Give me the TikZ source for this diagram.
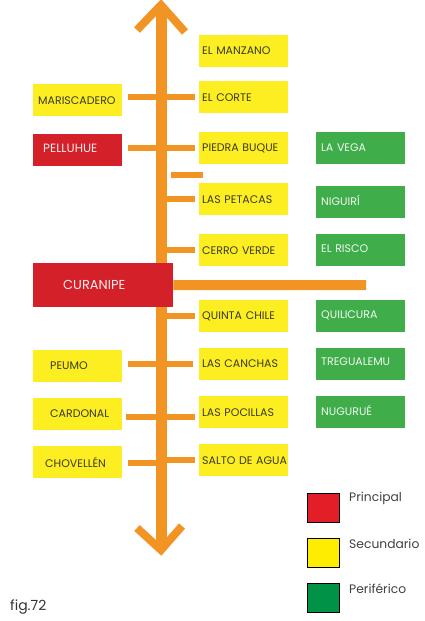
\documentclass[tikz,border=0pt]{standalone}
\usepackage{fontspec}
\setmainfont{Poppins}
\definecolor{orng}{HTML}{F29423}
\definecolor{ybox}{HTML}{FCEE21}
\definecolor{rbox}{HTML}{D32029}
\definecolor{gbox}{HTML}{3FAE4A}
\definecolor{lred}{HTML}{E31E26}
\definecolor{lyel}{HTML}{FFED00}
\definecolor{lgrn}{HTML}{009245}
\definecolor{btxt}{HTML}{3A3A20}
\tikzset{
  base/.style={anchor=north west, minimum width=89pt, minimum height=32pt, inner xsep=3pt, inner ysep=0pt, font=\fontsize{11}{12}\selectfont},
  rbx/.style={base, text width=83pt, align=left},
  yel/.style={fill=ybox, text=btxt},
  red/.style={fill=rbox, text=white!92!rbox},
  grn/.style={fill=gbox, text=white!92!gbox, inner xsep=5pt, text width=79pt},
  stub/.style={orng, line width=5.5pt},
  spine/.style={orng, line width=11pt},
  head/.style={orng, line width=8pt, line join=miter},
  leg/.style={draw=black, line width=0.8pt, minimum width=32pt, minimum height=29pt, anchor=north west, inner sep=0pt},
  legtxt/.style={anchor=west, text=black!75, font=\fontsize{12.3}{14}\selectfont, inner sep=0pt}
}
\newcommand{\ind}[2]{\hspace*{#1}#2}
\begin{document}
\begin{tikzpicture}[x=1pt,y=-1pt]
\useasboundingbox (0,0) rectangle (424,621);
% spine
\coordinate (top) at (161,5);
\coordinate (bot) at (161,550);
\draw[spine] (top) -- (bot);
\coordinate (ht1) at (137,30); \coordinate (ht2) at (185,32);
\draw[head] (ht1) -- (top) -- (ht2);
\coordinate (hb1) at (137,528); \coordinate (hb2) at (182,526);
\draw[head] (hb1) -- (bot) -- (hb2);
% right column
\node[rbx,yel] (manz) at (199,35) {\raisebox{1pt}{EL MANZANO}};
\node[rbx,yel] (corte) at (199,81) {EL CORTE};
\node[rbx,yel] (piedra) at (199,132) {PIEDRA BUQUE};
\node[rbx,yel] (petacas) at (199,183) {LAS PETACAS};
\node[rbx,yel] (cerro) at (199,234) {CERRO VERDE};
\node[rbx,yel] (quinta) at (199,300) {QUINTA CHILE};
\node[rbx,yel] (canchas) at (199,348) {\raisebox{2pt}{LAS CANCHAS}};
\node[rbx,yel] (pocillas) at (199,396) {\raisebox{-5pt}{LAS POCILLAS}};
\node[rbx,yel] (salto) at (199,444) {\raisebox{-1pt}{SALTO DE AGUA}};
% left column
\node[rbx,yel,text width=89pt,inner xsep=0pt] (maris) at (33,84) {\ind{5pt}{MARISCADERO}};
\node[rbx,red,text width=89pt,inner xsep=0pt,font=\fontsize{12}{13}\selectfont] (pell) at (33,134) {\ind{10pt}{\raisebox{4pt}{PELLUHUE}}};
\node[rbx,red,minimum width=140pt,minimum height=44pt,text width=140pt,inner xsep=0pt,font=\fontsize{13}{14}\selectfont] (cura) at (33,263) {\ind{30pt}{CURANIPE}};
\node[rbx,yel,text width=89pt,inner xsep=0pt] (peumo) at (33,350) {\ind{17pt}{\raisebox{2pt}{PEUMO}}};
\node[rbx,yel,text width=89pt,inner xsep=0pt] (cardonal) at (33,398) {\ind{17pt}{\raisebox{2pt}{CARDONAL}}};
\node[rbx,yel,text width=89pt,inner xsep=0pt] (chov) at (33,446) {\ind{12pt}{CHOVELLÉN}};
% green column
\node[rbx,grn] (vega) at (316,132) {\raisebox{1pt}{LA VEGA}};
\node[rbx,grn] (niguiri) at (316,186) {\raisebox{4pt}{NIGUIRÍ}};
\node[rbx,grn] (risco) at (316,234) {\raisebox{3pt}{EL RISCO}};
\node[rbx,grn] (quili) at (316,300) {\raisebox{3pt}{QUILICURA}};
\node[rbx,grn] (treg) at (316,348) {\raisebox{5pt}{TREGUALEMU}};
\node[rbx,grn] (nugu) at (316,396) {\raisebox{3pt}{NUGURUÉ}};
% connectors
\draw[stub] ([xshift=6pt]maris.east |- corte.west) -- ([xshift=-4pt]corte.west);
\draw[stub] ([xshift=6pt]pell.east |- piedra.west) -- ([xshift=-4pt]piedra.west);
\coordinate (s1) at (171,175); \coordinate (s2) at (203,175);
\draw[stub] (s1) -- (s2);
\draw[stub] (petacas.west -| top) -- ([xshift=-4pt]petacas.west);
\draw[stub] (cerro.west -| top) -- ([xshift=-4pt]cerro.west);
\coordinate (cend) at (366,285);
\draw[orng, line width=10pt] (cura.east) -- (cend);
\draw[stub] (quinta.west -| top) -- ([xshift=-4pt]quinta.west);
\draw[stub] ([xshift=6pt]peumo.east |- canchas.west) -- ([xshift=-6pt]canchas.west);
\draw[stub] ([xshift=4pt,yshift=-3pt]cardonal.east) -- ([xshift=-4pt,yshift=-5pt]pocillas.west);
\draw[stub] ([xshift=6pt,yshift=-1pt]chov.east) -- ([yshift=-1pt]chov.east -| top);
\draw[stub] (salto.west -| top) -- ([xshift=-4pt]salto.west);
% legend
\node[leg,fill=lred] (lp) at (307,493) {};
\node[leg,fill=lyel] (ls) at (307,538) {};
\node[leg,fill=lgrn] (lf) at (307,583) {};
\node[legtxt] (tp) at (349,498) {Principal};
\node[legtxt] (ts) at (349,544) {Secundario};
\node[legtxt] (tf) at (349,589) {Periférico};
\node[anchor=west, inner sep=0pt, text=black!80, font=\fontsize{14}{16}\selectfont] (fig) at (10,607) {fig.72};
\end{tikzpicture}
\end{document}
